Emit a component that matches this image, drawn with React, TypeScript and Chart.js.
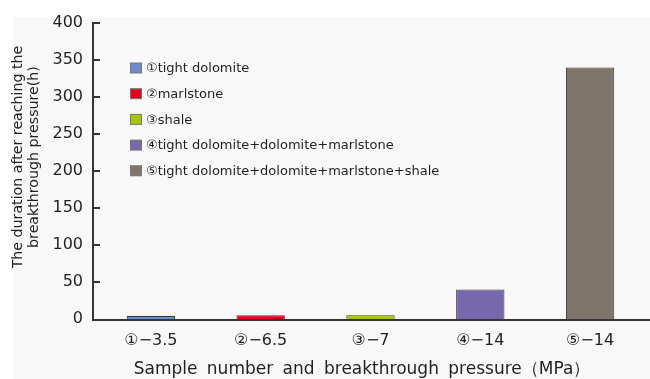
import React, { useEffect, useRef } from "react";
import { Chart, registerables } from "chart.js";

Chart.register(...registerables);

// Samples, labelled "number − breakthrough pressure (MPa)"
const categories = ["①−3.5", "②−6.5", "③−7", "④−14", "⑤−14"];
// Duration after reaching the breakthrough pressure (h)
const durations = [4, 5, 5, 40, 340];
const sampleNames = [
  "①tight dolomite",
  "②marlstone",
  "③shale",
  "④tight dolomite+dolomite+marlstone",
  "⑤tight dolomite+dolomite+marlstone+shale",
];
const barColors = ["#6b8dcc", "#e3001b", "#a5c700", "#7767ac", "#80756a"];
const yTicks = { min: 0, max: 400, step: 50 };

const FONT = "'DejaVu Sans', sans-serif";
const INK = "#231f20";
const AXIS = "#3a3232";

const decorPlugin = {
  id: "decor",
  beforeDraw(chart: any) {
    const { ctx, width, height } = chart;
    ctx.save();
    ctx.fillStyle = "#ffffff";
    ctx.fillRect(0, 0, width, height);
    ctx.fillStyle = "#f8f8f8";
    ctx.fillRect(13, 17, width - 13, height - 17);
    ctx.restore();
  },
  afterDatasetsDraw(chart: any) {
    const { ctx, chartArea, width } = chart;
    const y = chart.scales.y;
    const axisX = chartArea.left - 3;
    const axisY = chartArea.bottom + 1;
    ctx.save();
    ctx.strokeStyle = AXIS;
    ctx.lineWidth = 2;
    ctx.beginPath();
    ctx.moveTo(axisX, y.getPixelForValue(yTicks.max) - 1);
    ctx.lineTo(axisX, axisY + 1);
    ctx.moveTo(axisX - 1, axisY);
    ctx.lineTo(width, axisY);
    // inward tick marks
    for (let v = yTicks.min + yTicks.step; v <= yTicks.max; v += yTicks.step) {
      const py = y.getPixelForValue(v);
      ctx.moveTo(axisX, py);
      ctx.lineTo(axisX + 7, py);
    }
    ctx.stroke();

    // legend
    ctx.font = `13px ${FONT}`;
    ctx.textBaseline = "middle";
    ctx.textAlign = "left";
    sampleNames.forEach((name, i) => {
      const cy = 68 + i * 25.7;
      ctx.fillStyle = barColors[i];
      ctx.fillRect(130.5, cy - 5, 11, 10);
      ctx.strokeStyle = "#777";
      ctx.lineWidth = 1;
      ctx.strokeRect(130.5, cy - 5, 11, 10);
      ctx.fillStyle = INK;
      ctx.fillText(name, 146, cy + 1);
    });

    // axis titles
    ctx.fillStyle = INK;
    ctx.textAlign = "center";
    ctx.font = `14.2px ${FONT}`;
    ctx.save();
    ctx.translate(18, 157);
    ctx.rotate(-Math.PI / 2);
    ctx.fillText("The duration after reaching the", 0, 0);
    ctx.fillText("breakthrough pressure(h)", 0, 16);
    ctx.restore();

    ctx.font = `17px ${FONT}`;
    (ctx as any).wordSpacing = "4px";
    ctx.fillText("Sample number and breakthrough pressure（MPa）", 362, 370);
    ctx.restore();
  },
};

export default function App() {
  const ref = useRef<HTMLCanvasElement>(null);

  useEffect(() => {
    document.body.style.margin = "0";
    const chart = new Chart(ref.current!, {
      type: "bar",
      data: {
        labels: categories,
        datasets: [
          {
            data: durations,
            backgroundColor: barColors,
            borderColor: "#3d3535",
            borderWidth: 1,
            categoryPercentage: 1,
            barPercentage: 0.44,
          },
        ],
      },
      options: {
        animation: false,
        responsive: false,
        maintainAspectRatio: false,
        layout: { padding: { top: 23, right: 5, left: 0, bottom: 0 } },
        plugins: { legend: { display: false }, tooltip: { enabled: false } },
        scales: {
          x: {
            grid: { display: false, drawTicks: false },
            border: { display: false },
            ticks: {
              color: INK,
              font: { family: FONT, size: 16 },
              padding: 12,
              maxRotation: 0,
            },
            afterFit(s: any) {
              s.height = 60;
            },
          },
          y: {
            min: yTicks.min,
            max: yTicks.max,
            grid: { display: false, drawTicks: false },
            border: { display: false },
            ticks: {
              stepSize: yTicks.step,
              color: INK,
              font: { family: FONT, size: 16 },
              padding: 13,
            },
            afterFit(s: any) {
              s.width = 96;
            },
          },
        },
      },
      plugins: [decorPlugin],
    });
    return () => chart.destroy();
  }, []);

  return (
    <div style={{ width: 650, height: 379 }}>
      <canvas ref={ref} width={650} height={379} />
    </div>
  );
}
